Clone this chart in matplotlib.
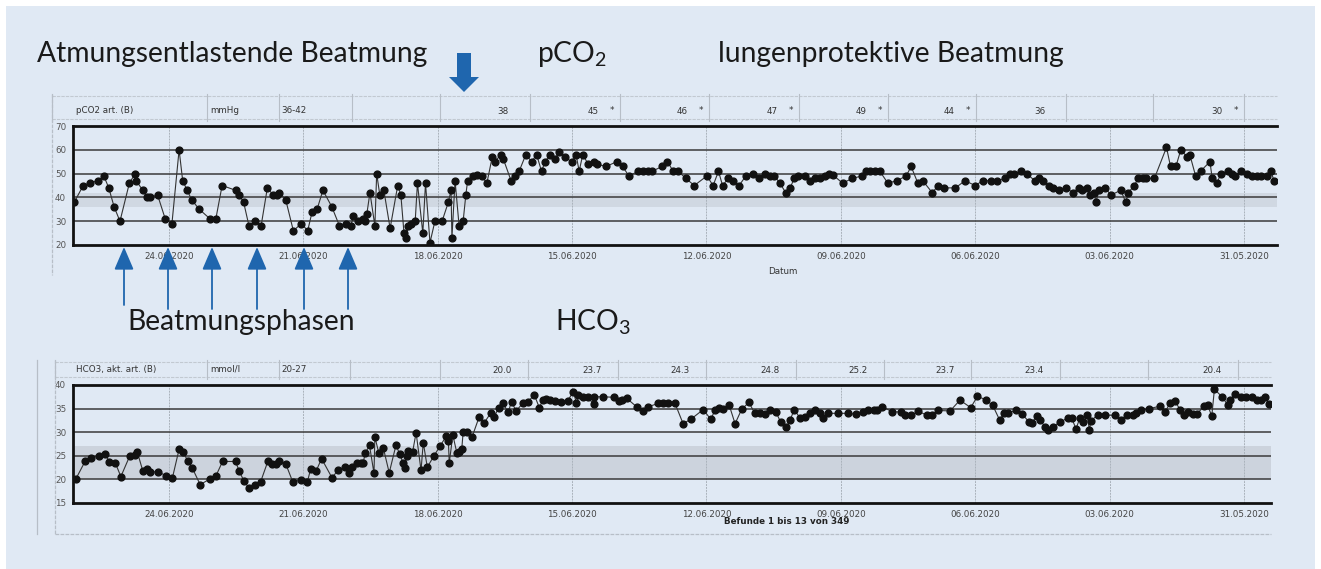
import matplotlib
matplotlib.use("Agg")
import matplotlib.pyplot as plt
from matplotlib.patches import Rectangle, Polygon, FancyArrowPatch

plt.rcParams['mathtext.fontset'] = 'custom'
plt.rcParams['mathtext.rm'] = 'Lato'
plt.rcParams['mathtext.it'] = 'Lato'

# ---------------- data ----------------
# time in days after 31.05.2020 (axis runs backwards in time)
pco2_day = [26.11, 25.91, 25.77, 25.59, 25.45, 25.34, 25.22, 25.09, 24.88, 24.75, 24.73, 24.58, 24.49, 24.42,
            24.25, 24.08, 23.93, 23.77, 23.69, 23.59, 23.49, 23.32, 23.08, 22.95, 22.81, 22.51, 22.43, 22.33,
            22.21, 22.07, 21.94, 21.80, 21.67, 21.58, 21.53, 21.39, 21.22, 21.04, 20.90, 20.80, 20.69, 20.56,
            20.36, 20.19, 20.04, 19.94, 19.88, 19.77, 19.66, 19.62, 19.58, 19.51, 19.40, 19.36, 19.29, 19.20,
            19.06, 18.89, 18.82, 18.75, 18.71, 18.65, 18.60, 18.50, 18.45, 18.33, 18.27, 18.17, 18.06, 17.90,
            17.76, 17.70, 17.68, 17.61, 17.52, 17.43, 17.37, 17.33, 17.22, 17.13, 17.02, 16.90, 16.78, 16.72,
            16.59, 16.53, 16.36, 16.27, 16.18, 16.03, 15.90, 15.79, 15.68, 15.60, 15.49, 15.39, 15.29, 15.16,
            15.01, 14.91, 14.84, 14.76, 14.64, 14.52, 14.45, 14.24, 14.00, 13.87, 13.73, 13.52, 13.41, 13.30,
            13.22, 12.98, 12.87, 12.74, 12.63, 12.46, 12.27, 11.99, 11.85, 11.73, 11.64, 11.51, 11.40, 11.27,
            11.12, 10.97, 10.82, 10.69, 10.58, 10.48, 10.36, 10.23, 10.13, 10.04, 9.95, 9.80, 9.69, 9.58,
            9.46, 9.35, 9.26, 9.18, 8.96, 8.74, 8.53, 8.44, 8.35, 8.24, 8.13, 7.95, 7.75, 7.54, 7.43, 7.28,
            7.17, 6.96, 6.82, 6.69, 6.44, 6.23, 6.00, 5.83, 5.65, 5.52, 5.33, 5.22, 5.13, 4.98, 4.85, 4.67,
            4.57, 4.48, 4.35, 4.26, 4.12, 3.97, 3.82, 3.69, 3.62, 3.51, 3.44, 3.34, 3.31, 3.23, 3.10, 2.97,
            2.75, 2.64, 2.58, 2.45, 2.36, 2.26, 2.19, 2.00, 1.73, 1.64, 1.52, 1.41, 1.27, 1.21, 1.08, 0.97,
            0.76, 0.71, 0.60, 0.52, 0.36, 0.27, 0.20, 0.07, -0.06, -0.17, -0.28, -0.39, -0.51, -0.60, -0.67]
pco2_val = [38, 45, 46, 47, 49, 44, 36, 30, 46, 50, 47, 43, 40, 40,
            41, 31, 29, 60, 47, 43, 39, 35, 31, 31, 45, 43, 41, 38,
            28, 30, 28, 44, 41, 41, 42, 39, 26, 29, 26, 34, 35, 43,
            36, 28, 29, 28, 32, 30, 31, 30, 33, 42, 28, 50, 41, 43,
            27, 45, 41, 25, 23, 28, 29, 30, 46, 25, 46, 21, 30, 30,
            38, 43, 23, 47, 28, 30, 41, 47, 49, 49.5, 49, 46, 57, 55,
            58, 56, 47, 49, 51, 58, 55, 58, 51, 55, 58, 56, 59, 57,
            55, 58, 51, 58, 54, 55, 54, 53, 55, 53, 49, 51, 51, 51,
            51, 53, 55, 51, 51, 48, 45, 49, 45, 51, 45, 48, 47, 45,
            49, 50, 48, 50, 49, 49, 46, 42, 44, 48, 49, 49, 47, 48,
            48, 49, 50, 49.5, 46, 48, 49, 51, 51, 51, 51, 46, 47, 49, 53, 46,
            47, 42, 45, 44, 44, 47, 45, 47, 47, 47, 48, 50, 50, 51, 50, 47,
            48, 47, 45, 44, 43, 44, 42, 44, 43, 44, 41, 42, 38, 43, 44, 41,
            43, 38, 42, 45, 48, 48, 48, 48, 61, 53, 53, 60, 57, 58, 49, 51,
            55, 48, 46, 50, 51, 50, 49, 51, 50, 49, 49, 49, 49, 51, 47]

hco3_day = [26.08, 25.87, 25.74, 25.56, 25.42, 25.33, 25.19, 25.07, 24.87, 24.75, 24.70, 24.58, 24.49, 24.42,
            24.23, 24.07, 23.92, 23.77, 23.68, 23.58, 23.48, 23.30, 23.08, 22.95, 22.80, 22.51, 22.43, 22.32,
            22.21, 22.08, 21.95, 21.79, 21.69, 21.61, 21.53, 21.39, 21.23, 21.06, 20.91, 20.83, 20.71, 20.59,
            20.36, 20.22, 20.07, 19.97, 19.90, 19.81, 19.72, 19.66, 19.62, 19.52, 19.42, 19.40, 19.31, 19.21,
            19.08, 18.93, 18.84, 18.77, 18.73, 18.69, 18.65, 18.56, 18.48, 18.37, 18.32, 18.23, 18.08, 17.95,
            17.81, 17.76, 17.74, 17.66, 17.57, 17.52, 17.46, 17.43, 17.34, 17.23, 17.07, 16.96, 16.81, 16.73,
            16.64, 16.55, 16.42, 16.35, 16.25, 16.10, 15.98, 15.84, 15.73, 15.65, 15.58, 15.49, 15.38, 15.25,
            15.10, 14.97, 14.90, 14.86, 14.76, 14.64, 14.52, 14.50, 14.31, 14.06, 13.94, 13.89, 13.78, 13.56,
            13.41, 13.30, 13.07, 12.96, 12.85, 12.70, 12.52, 12.34, 12.07, 11.90, 11.81, 11.72, 11.62, 11.49,
            11.36, 11.21, 11.05, 10.92, 10.80, 10.69, 10.58, 10.45, 10.34, 10.22, 10.13, 10.04, 9.91, 9.80,
            9.69, 9.58, 9.46, 9.39, 9.28, 9.06, 8.85, 8.65, 8.50, 8.39, 8.27, 8.20, 8.07, 7.85, 7.66, 7.57,
            7.43, 7.27, 7.07, 6.97, 6.82, 6.56, 6.34, 6.10, 5.95, 5.77, 5.61, 5.45, 5.36, 5.26, 5.10, 4.96,
            4.79, 4.74, 4.63, 4.55, 4.44, 4.37, 4.26, 4.11, 3.92, 3.85, 3.75, 3.66, 3.59, 3.50, 3.45, 3.42,
            3.27, 3.10, 2.88, 2.75, 2.62, 2.47, 2.40, 2.30, 2.11, 1.88, 1.76, 1.65, 1.54, 1.43, 1.34, 1.26,
            1.13, 1.06, 0.89, 0.81, 0.72, 0.66, 0.48, 0.36, 0.31, 0.20, 0.07, -0.04, -0.17, -0.30, -0.39,
            -0.47, -0.56]
hco3_val = [20, 23.8, 24.5, 25, 25.4, 23.7, 23.4, 20.6, 25, 25.2, 25.7, 21.8, 22.3, 21.6,
            21.6, 20.8, 20.3, 26.4, 25.9, 23.9, 22.5, 18.9, 20.1, 20.7, 23.8, 23.8, 21.8, 19.6,
            18.2, 18.9, 19.5, 23.8, 23.3, 23.3, 23.8, 23.3, 19.4, 19.9, 19.4, 22.3, 21.8, 24.4,
            20.4, 21.9, 22.7, 21.4, 22.7, 23.4, 23.4, 23.5, 25.5, 27.2, 21.3, 29, 25.5, 26.6,
            21.4, 27.2, 25.3, 23.4, 22.5, 25, 26, 25.7, 29.9, 21.9, 27.8, 22.6, 25, 27,
            29.1, 28.2, 23.5, 29.4, 25.6, 25.8, 26.5, 30, 30, 29, 33.3, 32, 34.1, 33.3,
            35.2, 36.1, 34.3, 36.5, 34.5, 36.1, 36.5, 37.9, 35.2, 36.8, 37, 36.8, 36.6, 36.5,
            36.6, 38.6, 36.1, 37.9, 37.5, 37.4, 35.9, 37.5, 37.5, 37.4, 36.7, 36.8, 37.2, 35.4,
            34.5, 35.4, 36.1, 36.1, 36.1, 36.1, 31.8, 32.8, 34.8, 32.7, 34.7, 35.2, 34.9, 35.7,
            31.8, 34.9, 36.3, 34, 34, 33.8, 34.7, 34.3, 32.1, 31, 32.6, 34.8, 33, 33.3,
            34, 34.8, 34, 33, 34, 34, 34, 33.8, 34.3, 34.6, 34.6, 34.6, 35.4, 34.3, 34.3, 33.6,
            33.6, 34.4, 33.6, 33.6, 34.6, 34.5, 36.8, 35.2, 37.6, 36.9, 35.7, 32.5, 34.1, 34.1, 34.6, 33.9,
            32.1, 31.9, 33.4, 32.6, 31.1, 30.5, 31.2, 32.1, 33.1, 33.1, 30.7, 33.1, 32.1, 33.6, 30.4, 32.4,
            33.6, 33.6, 33.6, 32.6, 33.6, 33.6, 34.1, 34.6, 35, 35.5, 34.3, 36.2, 36.6, 34.8, 33.6, 34.3,
            33.9, 33.8, 35.5, 35.7, 33.4, 39.1, 37.4, 35.7, 36.8, 38.1, 37.5, 37.5, 37.5, 36.9, 36.8,
            37.4, 35.9]

date_days = [24, 21, 18, 15, 12, 9, 6, 3, 0]
date_labels = ['24.06.2020', '21.06.2020', '18.06.2020', '15.06.2020', '12.06.2020',
               '09.06.2020', '06.06.2020', '03.06.2020', '31.05.2020']

pco2_ticks = [20, 30, 40, 50, 60, 70]
hco3_ticks = [15, 20, 25, 30, 35, 40]
pco2_range = (36, 42)
hco3_range = (20, 27)

pco2_header = ['pCO2 art. (B)', 'mmHg', '36-42']
pco2_cols = ['38', '45', '46', '47', '49', '44', '36', '', '30']
pco2_star = [False, True, True, True, True, True, False, False, True]
hco3_header = ['HCO3, akt. art. (B)', 'mmol/l', '20-27']
hco3_cols = ['20.0', '23.7', '24.3', '24.8', '25.2', '23.7', '23.4', '', '20.4']

phase_marks = [124, 168, 212, 257, 304, 348]   # annotation arrow x positions (px)

# ---------------- figure ----------------
W, H = 1321, 569
fig = plt.figure(figsize=(W / 100, H / 100), dpi=100, facecolor='white')
BG = '#e0e9f4'
fig.patches.append(Rectangle((6 / W, 0), 1309 / W, 1 - 6 / H, transform=fig.transFigure,
                             facecolor=BG, edgecolor='none', zorder=-10))


def add_ax(l, r, t, b):
    return fig.add_axes([l / W, 1 - b / H, (r - l) / W, (b - t) / H])


def px_day(px):
    return (1244 - px) / 44.8


def style_panel(ax, days, vals, ylim, ticks, rng, xl, xr, band_alpha):
    ax.set_facecolor('none')
    ax.set_xlim(px_day(xl), px_day(xr))
    ax.set_ylim(*ylim)
    ax.axhspan(rng[0], rng[1], color='#b4bac3', alpha=band_alpha, lw=0, zorder=0.5)
    for t in ticks[1:-1]:
        ax.axhline(t, color='#3a3a3a', lw=1.1, zorder=1)
    for d in date_days:
        ax.axvline(d, color='#aab2bb', lw=0.7, ls=(0, (2, 1)), zorder=0.8)
    ax.plot(days, vals, '-', color='#333333', lw=0.8, zorder=2)
    ax.plot(days, vals, 'o', color='#111111', ms=4.9, zorder=3)
    ax.spines['right'].set_visible(False)
    for s in ['top', 'bottom', 'left']:
        ax.spines[s].set_linewidth(2.0)
        ax.spines[s].set_color('#111111')
    ax.set_yticks(ticks)
    ax.set_yticklabels([str(t) for t in ticks], fontsize=6.3, color='#555555', family='DejaVu Sans')
    ax.set_xticks(date_days)
    ax.set_xticklabels(date_labels, fontsize=6.3, color='#444444', family='DejaVu Sans')
    ax.tick_params(axis='both', length=0)
    ax.tick_params(axis='x', pad=5)
    for lab in ax.get_yticklabels():
        lab.set_horizontalalignment('left')
    ax.yaxis.set_tick_params(pad=13)


ax1 = add_ax(73, 1277, 126, 245)
style_panel(ax1, pco2_day, pco2_val, (20, 70), pco2_ticks, pco2_range, 73, 1277, 0.35)
ax2 = add_ax(73, 1271, 385, 503)
style_panel(ax2, hco3_day, hco3_val, (15, 40), hco3_ticks, hco3_range, 73, 1271, 0.45)

# overlay for annotations / table headers (pixel coordinates)
ov = fig.add_axes([0, 0, 1, 1], zorder=5)
ov.set_xlim(0, W)
ov.set_ylim(H, 0)
ov.axis('off')
ov.patch.set_alpha(0)

HF = dict(fontsize=6.3, color='#333333', family='DejaVu Sans', va='center')

# pCO2 header
div1 = [52, 207, 279, 352, 440, 530, 620, 709, 799, 888, 976, 1066, 1153, 1244]
ov.plot([52, 1277], [96, 96], color='#c2c9d1', lw=0.8, ls=(0, (3, 1)))
ov.plot([52, 1277], [119, 119], color='#c2c9d1', lw=0.8, ls=(0, (3, 1)))
for x in div1:
    ov.plot([x, x], [94, 121], color='#b7bec7', lw=0.8)
ov.plot([52, 52], [94, 275], color='#b7bec7', lw=0.9, ls=(0, (3, 1)))
ov.text(76, 110, pco2_header[0], **HF)
ov.text(210, 110, pco2_header[1], **HF)
ov.text(281, 110, pco2_header[2], **HF)
for i, v in enumerate(pco2_cols):
    right = div1[i + 5] if i + 5 < len(div1) else 1277
    ov.text(right - 21, 111, v, ha='right', **HF)
    if pco2_star[i]:
        ov.text(right - 6, 110, '*', ha='right', **HF)
ov.text(783, 271, 'Datum', ha='center', **HF)

# HCO3 header
div2 = [55, 207, 279, 350, 440, 528, 618, 706, 796, 884, 971, 1060, 1148, 1238]
ov.plot([55, 1271], [362, 362], color='#c2c9d1', lw=0.8, ls=(0, (3, 1)))
ov.plot([55, 1271], [377, 377], color='#c2c9d1', lw=0.8, ls=(0, (3, 1)))
for x in div2:
    ov.plot([x, x], [360, 379], color='#b7bec7', lw=0.8)
ov.plot([55, 55], [360, 534], color='#b7bec7', lw=0.9, ls=(0, (3, 1)))
ov.plot([37, 37], [360, 534], color='#b7bec7', lw=0.9)
ov.plot([55, 1271], [534, 534], color='#b7bec7', lw=0.9, ls=(0, (3, 1)))
ov.text(76, 369, hco3_header[0], **HF)
ov.text(210, 369, hco3_header[1], **HF)
ov.text(281, 369, hco3_header[2], **HF)
for i, v in enumerate(hco3_cols):
    right = div2[i + 5] if i + 5 < len(div2) else 1271
    ov.text(right - 16, 370, v, ha='right', **HF)
ov.text(787, 522, 'Befunde 1 bis 13 von 349', ha='center', fontsize=6.3, weight='bold',
        color='#222222', family='DejaVu Sans', va='center')

# slide annotations
TF = dict(fontsize=20.3, color='#1a1a1a', family='Lato', va='baseline')
ov.text(37, 62, 'Atmungsentlastende Beatmung', **TF)
ov.text(537, 62, r'pCO$_2$', **TF)
ov.text(718, 62, 'lungenprotektive Beatmung', **TF)
ov.text(127, 330, 'Beatmungsphasen', **TF)
ov.text(555, 330, r'HCO$_3$', **TF)

BLUE = '#1f66ae'
ov.add_patch(Polygon([(457, 53), (471, 53), (471, 77), (479, 77), (464, 92), (449, 77), (457, 77)],
                     closed=True, facecolor=BLUE, edgecolor='none'))
for x in phase_marks:
    tail = 305 if x == phase_marks[0] else 309
    ov.add_patch(FancyArrowPatch((x, tail), (x, 247), arrowstyle='-|>,head_length=0.7,head_width=0.3',
                                 mutation_scale=20, color=BLUE, lw=1.3, shrinkA=0, shrinkB=0))

fig.savefig('out.png', dpi=100, facecolor='white')
